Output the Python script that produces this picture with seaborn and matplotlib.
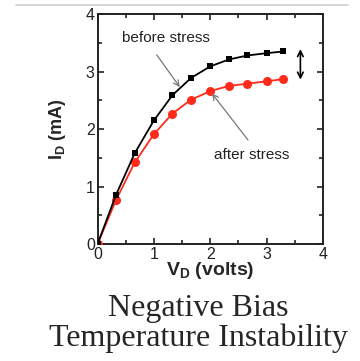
import pandas as pd
import seaborn as sns
import matplotlib.pyplot as plt
from matplotlib.lines import Line2D

vd = [0.0, 0.33, 0.66, 1.0, 1.33, 1.66, 2.0, 2.33, 2.66, 3.0, 3.3]
id_before = [0.0, 0.86, 1.58, 2.15, 2.59, 2.89, 3.09, 3.21, 3.28, 3.32, 3.35]
id_after = [0.0, 0.77, 1.42, 1.91, 2.27, 2.51, 2.66, 2.75, 2.79, 2.83, 2.87]

sns.set_style('ticks')
plt.rcParams['font.family'] = ['Liberation Sans', 'DejaVu Sans']
plt.rcParams['mathtext.fontset'] = 'custom'
plt.rcParams['mathtext.rm'] = 'Liberation Sans'
plt.rcParams['mathtext.bf'] = 'Liberation Sans:bold'

data = pd.DataFrame({'vd': vd, 'before': id_before, 'after': id_after})

fig = plt.figure(figsize=(3.6, 3.61), dpi=100)
ax = fig.add_axes([0.271, 0.324, 0.626, 0.637])

sns.lineplot(ax=ax, data=data, x='vd', y='after', color='#ff2a1a', marker='o',
             markersize=6.5, markeredgewidth=0, linewidth=1.3, zorder=3)
sns.lineplot(ax=ax, data=data, x='vd', y='before', color='black', marker='s',
             markersize=4.5, markeredgewidth=0, linewidth=1.3, zorder=4)

ax.set_xlim(0, 4)
ax.set_ylim(0, 4)
ax.set_xticks([0, 1, 2, 3, 4])
ax.set_yticks([0, 1, 2, 3, 4])
ax.set_xticks([0.5, 1.5, 2.5, 3.5], minor=True)
ax.set_yticks([0.5, 1.5, 2.5, 3.5], minor=True)
ax.tick_params(which='both', direction='in', top=True, right=True, width=1.2,
               labelsize=11.5, pad=2, colors='#222222')
ax.tick_params(which='major', length=4)
ax.tick_params(which='minor', length=3)
for s in ax.spines.values():
    s.set_linewidth(1.4)
    s.set_color('#222222')

ax.set_xlabel(r'$\mathbf{V_D}$ (volts)', fontsize=14, fontweight='bold', labelpad=-1)
ax.set_ylabel(r'$\mathbf{I_D}$ (mA)', fontsize=13, fontweight='bold', labelpad=13)

arrow = dict(arrowstyle='->', color='#777777', lw=0.9, shrinkA=0, shrinkB=0)
ax.annotate('', xy=(1.46, 2.73), xytext=(1.05, 3.29), arrowprops=arrow)
ax.annotate('', xy=(2.03, 2.62), xytext=(2.67, 1.81), arrowprops=arrow)
ax.text(1.21, 3.58, 'before stress', ha='center', va='center',
        fontsize=11, color='#222222')
ax.text(2.74, 1.55, 'after stress', ha='center', va='center',
        fontsize=11, color='#222222')
ax.annotate('', xy=(3.6, 2.86), xytext=(3.6, 3.39),
            arrowprops=dict(arrowstyle='<->', color='black', lw=1.2,
                            shrinkA=0, shrinkB=0))

fig.add_artist(Line2D([16 / 360, 348 / 360], [1 - 5 / 361, 1 - 5 / 361],
                      color='#d0d0d0', lw=1.2))

fig.text(0.55, 1 - 316 / 361, 'Negative Bias', ha='center', va='baseline',
         fontsize=23, family='Liberation Serif')
fig.text(0.55, 1 - 346 / 361, 'Temperature Instability', ha='center', va='baseline',
         fontsize=23, family='Liberation Serif')

fig.savefig('out.png', dpi=100)
